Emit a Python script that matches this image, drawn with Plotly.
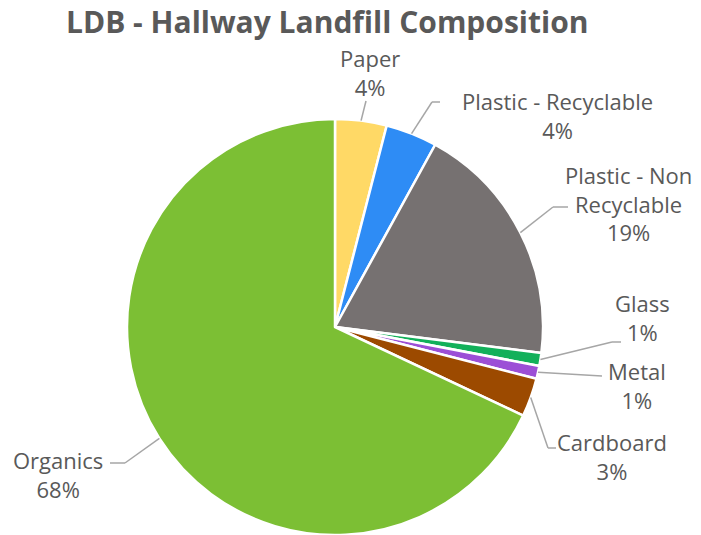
import math
import plotly.graph_objects as go

# Landfill composition by material (percent of total)
categories = ["Paper", "Plastic - Recyclable", "Plastic - Non Recyclable",
              "Glass", "Metal", "Cardboard", "Organics"]
shares = [4, 4, 19, 1, 1, 3, 68]
label_text = ["Paper<br>4%", "Plastic - Recyclable<br>4%", "Plastic - Non<br>Recyclable<br>19%",
              "Glass<br>1%", "Metal<br>1%", "Cardboard<br>3%", "Organics<br>68%"]
colors = ["#FFD966", "#2E8CF5", "#767171", "#12B05A", "#9C4FD6", "#9C4A00", "#7CBF34"]

W, H = 701, 535
CX, CY, R = 335, 327, 208

# label centres and leader-line bend points, in pixels
label_pos = [(370, 72), (557, 116), (628, 203), (642, 317), (637, 385), (612, 456), (58, 474)]
leader_bends = [
    [(366, 101)],
    [(432, 102), (440, 102)],
    [(553, 207), (568, 207)],
    [(612, 342), (621, 342)],
    [(602, 376)],
    [(548, 448), (556, 448)],
    [(125, 463), (110, 463)],
]


def to_paper(px, py):
    return px / W, 1 - py / H


fig = go.Figure(go.Pie(
    labels=categories,
    values=shares,
    sort=False,
    direction="clockwise",
    rotation=0,
    marker=dict(colors=colors, line=dict(color="white", width=2.5)),
    textinfo="none",
    hoverinfo="label+percent",
    domain=dict(x=[(CX - R) / W, (CX + R) / W], y=[0, (H - (CY - R)) / H]),
))

total = sum(shares)
cum = 0
shapes = []
annotations = []
for i, v in enumerate(shares):
    mid = (cum + v / 2) / total * 2 * math.pi
    cum += v
    # point on the slice edge at its mid angle
    ex = CX + R * math.sin(mid)
    ey = CY - R * math.cos(mid)
    pts = [(ex, ey)] + leader_bends[i]
    for (x0, y0), (x1, y1) in zip(pts[:-1], pts[1:]):
        a0 = to_paper(x0, y0)
        a1 = to_paper(x1, y1)
        shapes.append(dict(type="line", xref="paper", yref="paper",
                           x0=a0[0], y0=a0[1], x1=a1[0], y1=a1[1],
                           line=dict(color="#A6A6A6", width=1.5)))
    lx, ly = to_paper(*label_pos[i])
    annotations.append(dict(text=label_text[i], x=lx, y=ly, xref="paper", yref="paper",
                            xanchor="center", yanchor="middle", showarrow=False,
                            align="center", borderpad=0,
                            font=dict(family="Open Sans", size=22, color="#595959")))

annotations.append(dict(text="<b>LDB - Hallway Landfill Composition</b>",
                        x=327 / W, y=1, xref="paper", yref="paper",
                        xanchor="center", yanchor="top", showarrow=False,
                        borderpad=0,
                        font=dict(family="Open Sans", size=30, color="#595959")))

fig.update_layout(
    width=W, height=H,
    margin=dict(l=0, r=0, t=0, b=0),
    paper_bgcolor="white",
    showlegend=False,
    shapes=shapes,
    annotations=annotations,
)

fig.write_html("out.html")
